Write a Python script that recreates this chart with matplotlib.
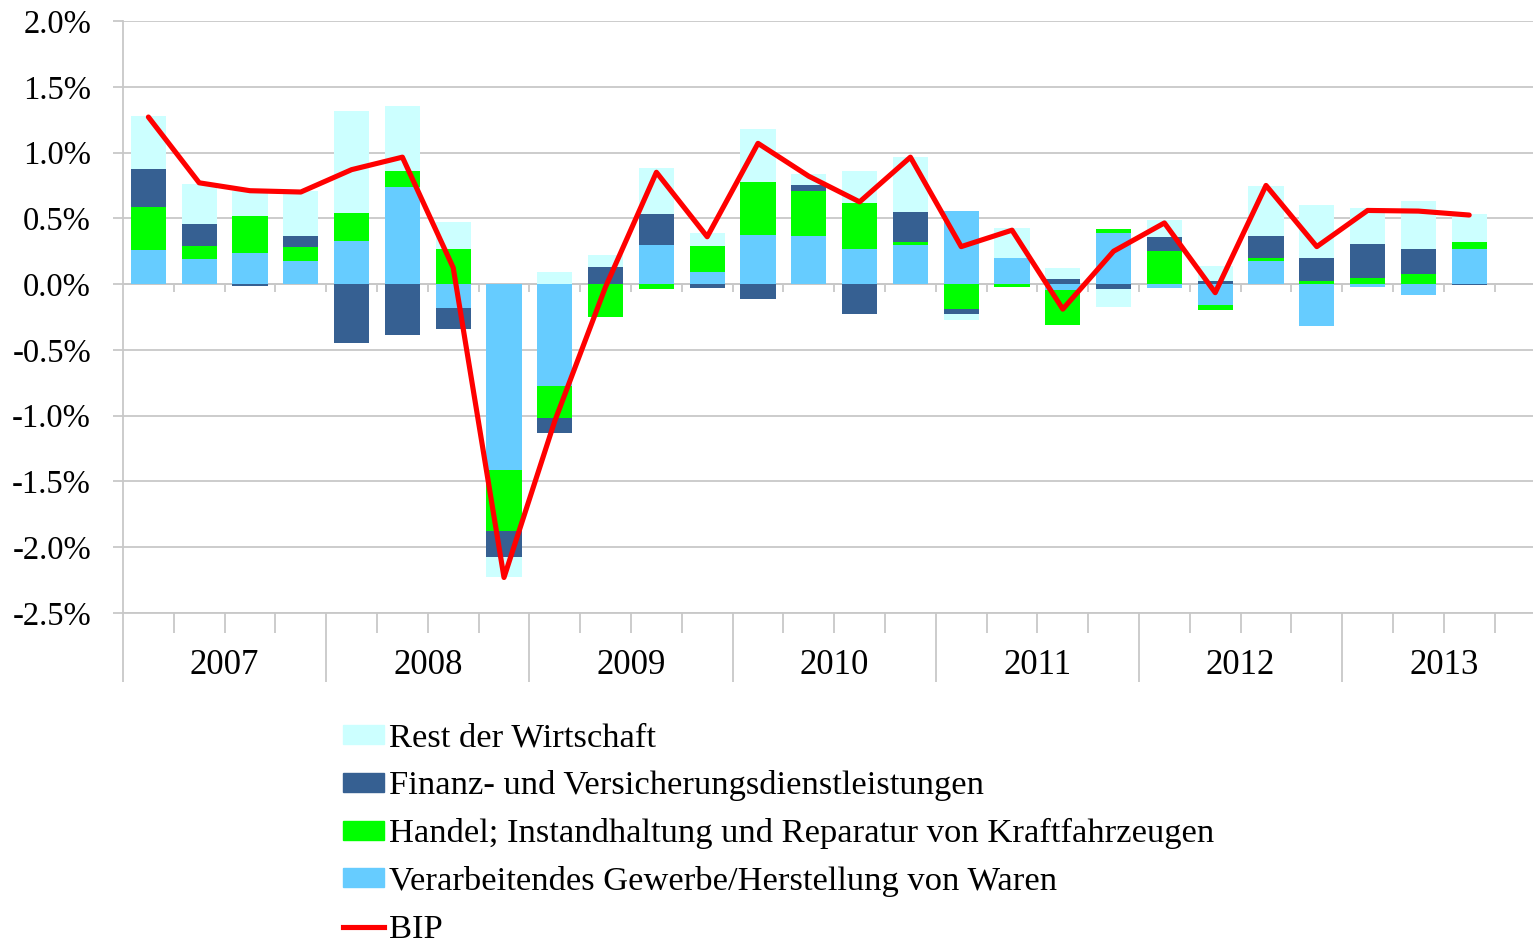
import numpy as np
import matplotlib
matplotlib.use("Agg")
import matplotlib.pyplot as plt
from matplotlib.patches import Patch
from matplotlib.lines import Line2D
from matplotlib.ticker import FuncFormatter, FixedLocator
import matplotlib.transforms as mtransforms

plt.rcParams['font.family'] = ['Liberation Serif', 'DejaVu Serif']

years = ["2007", "2008", "2009", "2010", "2011", "2012", "2013"]
quarters_per_year = 4

verarb = [0.26, 0.19, 0.24, 0.175, 0.33, 0.735, -0.185, -1.41, -0.775, 0.0, 0.30, 0.09,
          0.37, 0.365, 0.265, 0.295, 0.555, 0.195, -0.045, 0.39, -0.03, -0.16, 0.175,
          -0.32, -0.02, -0.08, 0.265, np.nan]
handel = [0.325, 0.10, 0.275, 0.105, 0.21, 0.125, 0.27, -0.465, -0.24, -0.253, -0.035, 0.20,
          0.405, 0.34, 0.355, 0.025, -0.19, -0.02, -0.265, 0.03, 0.25, -0.04, 0.02,
          0.025, 0.045, 0.075, 0.055, np.nan]
finanz = [0.29, 0.17, -0.015, 0.085, -0.445, -0.39, -0.155, -0.20, -0.12, 0.13, 0.23, -0.03,
          -0.115, 0.05, -0.23, 0.225, -0.04, 0.0, 0.04, -0.04, 0.11, 0.025, 0.17,
          0.175, 0.26, 0.195, -0.005, np.nan]
rest = [0.40, 0.30, 0.19, 0.34, 0.775, 0.495, 0.20, -0.155, 0.09, 0.095, 0.35, 0.10,
        0.405, 0.08, 0.24, 0.42, -0.04, 0.233, 0.085, -0.135, 0.13, 0.11, 0.38,
        0.405, 0.275, 0.365, 0.21, np.nan]
bip = [1.27, 0.77, 0.71, 0.70, 0.87, 0.965, 0.125, -2.23, -1.04, -0.02, 0.85, 0.36,
       1.07, 0.82, 0.625, 0.965, 0.285, 0.41, -0.19, 0.25, 0.465, -0.065, 0.75,
       0.285, 0.56, 0.555, 0.525, np.nan]

series_names = ["Verarbeitendes Gewerbe/Herstellung von Waren",
                "Handel; Instandhaltung und Reparatur von Kraftfahrzeugen",
                "Finanz- und Versicherungsdienstleistungen",
                "Rest der Wirtschaft"]
series_colors = ["#66CCFF", "#00FF00", "#366092", "#CCFFFF"]
line_name = "BIP"
line_color = "#FF0000"

W, H = 1533, 942
fig = plt.figure(figsize=(W / 100, H / 100), dpi=100)
n = len(bip)
cat_w = 50.8
left_px, top_px, bot_px = 123, 21, 613
ax = fig.add_axes([left_px / W, 1 - bot_px / H, n * cat_w / W, (bot_px - top_px) / H])

x = np.arange(n)
pos_bottom = np.zeros(n)
neg_bottom = np.zeros(n)
for vals, col in zip([verarb, handel, finanz, rest], series_colors):
    v = np.nan_to_num(np.array(vals, dtype=float))
    bottoms = np.where(v >= 0, pos_bottom, neg_bottom)
    ax.bar(x, v, width=0.69, bottom=bottoms, color=col, edgecolor='none', zorder=2)
    pos_bottom = pos_bottom + np.where(v > 0, v, 0)
    neg_bottom = neg_bottom + np.where(v < 0, v, 0)

ax.plot(x, bip, color=line_color, lw=3.7, solid_joinstyle='round',
        solid_capstyle='round', zorder=4)

ax.set_xlim(-0.5, n - 0.5)
ax.set_ylim(-2.5, 2.0)
ax.set_yticks(np.arange(-2.5, 2.01, 0.5))
ax.yaxis.set_major_formatter(FuncFormatter(lambda v, p: "{:.1f}%".format(v)))
grid_col = "#C8C8C8"
ax.yaxis.grid(True, color=grid_col, lw=1.3, zorder=0)
ax.set_axisbelow(True)
ax.tick_params(axis='y', length=7, color=grid_col, width=1.3, labelsize=23.5, pad=16)

for s in ['top', 'right']:
    ax.spines[s].set_visible(False)
ax.spines['left'].set_color(grid_col)
ax.spines['left'].set_linewidth(1.3)
# zero axis line with small ticks
ax.spines['bottom'].set_position(('data', 0))
ax.spines['bottom'].set_color(grid_col)
ax.spines['bottom'].set_linewidth(1.3)
ax.spines['bottom'].set_zorder(1)
bounds = np.arange(0.5, n - 0.5, 1.0)
ax.set_xticks(bounds)
ax.set_xticklabels([])
ax.tick_params(axis='x', length=6, color=grid_col, width=1.3, direction='out')

# category label axis at the bottom
sec = ax.secondary_xaxis(0)
sec.spines['bottom'].set_color(grid_col)
sec.spines['bottom'].set_linewidth(1.3)
year_bounds = np.arange(-0.5, n, quarters_per_year)
q_bounds = [b for b in np.arange(0.5, n - 0.5, 1.0) if (b + 0.5) % quarters_per_year != 0]
sec.xaxis.set_major_locator(FixedLocator(year_bounds))
sec.xaxis.set_minor_locator(FixedLocator(q_bounds))
sec.tick_params(axis='x', which='major', length=50, color=grid_col, width=1.3, labelbottom=False)
sec.tick_params(axis='x', which='minor', length=14.5, color=grid_col, width=1.3, labelbottom=False)

trans = mtransforms.blended_transform_factory(ax.transData, ax.transAxes)
for i, yr in enumerate(years):
    ax.text(i * quarters_per_year + 1.5, -52 / (bot_px - top_px), yr, transform=trans,
            ha='center', va='center', fontsize=25)

handles = [Patch(color=series_colors[3], label=series_names[3]),
           Patch(color=series_colors[2], label=series_names[2]),
           Patch(color=series_colors[1], label=series_names[1]),
           Patch(color=series_colors[0], label=series_names[0]),
           Line2D([], [], color=line_color, lw=3.7, label=line_name)]
fig.legend(handles=handles, loc='upper left', bbox_to_anchor=(343 / W, 1 - 723 / H),
           frameon=False, fontsize=24.8, handlelength=1.2, handleheight=0.47,
           handletextpad=0.14, labelspacing=0.49, borderpad=0, borderaxespad=0)

fig.savefig("out.png", dpi=100)
